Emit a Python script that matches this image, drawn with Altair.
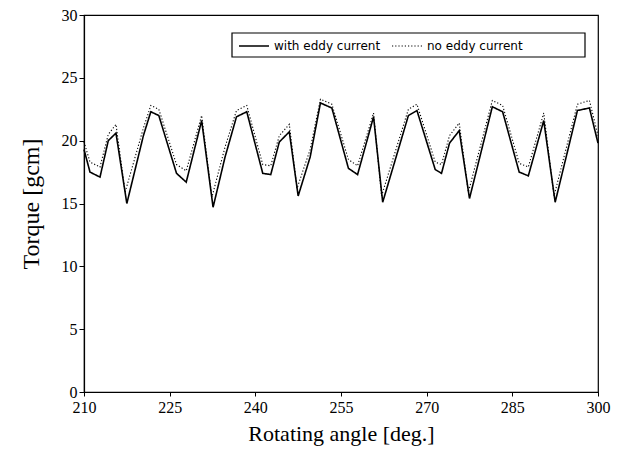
import altair as alt
import pandas as pd

# solid line: with eddy current
angle_with = [210.0, 211.05, 212.8, 214.25, 215.6, 217.5, 220.4, 221.7, 223.1, 226.2, 227.9,
              230.6, 232.6, 234.7, 236.7, 238.5, 241.3, 242.7, 244.2, 245.95, 247.5,
              249.6, 251.4, 253.4, 256.3, 257.9, 260.7, 262.3, 266.8, 268.3, 271.5,
              272.6, 274.0, 275.7, 277.5, 281.5, 283.3, 286.2, 287.8, 290.5, 292.5,
              296.4, 298.5, 300.0]
torque_with = [19.3, 17.5, 17.1, 20.0, 20.6, 15.0, 20.4, 22.3, 22.0, 17.4, 16.7,
               21.6, 14.7, 18.7, 21.9, 22.3, 17.4, 17.3, 19.9, 20.7, 15.6,
               18.7, 23.0, 22.6, 17.8, 17.3, 21.9, 15.1, 22.0, 22.4, 17.7,
               17.4, 19.8, 20.8, 15.4, 22.7, 22.3, 17.5, 17.2, 21.6, 15.1,
               22.4, 22.6, 19.8]

# dotted line: no eddy current
angle_no = [210.0, 211.05, 212.8, 214.25, 215.6, 217.2, 220.4, 221.7, 223.1, 226.2, 227.9,
            230.6, 232.4, 234.7, 236.7, 238.5, 241.3, 242.7, 244.2, 245.95, 247.3,
            249.6, 251.4, 253.4, 256.3, 257.9, 260.7, 262.1, 266.8, 268.3, 271.5,
            272.6, 274.0, 275.7, 277.3, 281.5, 283.3, 286.2, 287.8, 290.5, 292.3,
            296.4, 298.5, 300.0]
torque_no = [19.9, 18.3, 17.9, 20.5, 21.3, 15.9, 21.0, 22.8, 22.5, 18.1, 17.6,
             22.0, 15.5, 19.5, 22.4, 22.8, 18.1, 18.0, 20.4, 21.3, 16.2,
             19.3, 23.3, 22.9, 18.5, 18.0, 22.2, 15.6, 22.5, 22.9, 18.3,
             18.1, 20.4, 21.4, 15.9, 23.2, 22.8, 18.2, 17.9, 22.2, 15.6,
             22.9, 23.2, 20.4]

series_names = ["with eddy current", "no eddy current"]
x_ticks = [210, 225, 240, 255, 270, 285, 300]
y_ticks = [0, 5, 10, 15, 20, 25, 30]

df = pd.concat([
    pd.DataFrame({"angle": angle_with, "torque": torque_with, "series": series_names[0], "order": range(len(angle_with))}),
    pd.DataFrame({"angle": angle_no, "torque": torque_no, "series": series_names[1], "order": range(len(angle_no))}),
])

serif = "Liberation Serif"

# legend frame (decoration only)
frame = alt.Chart(pd.DataFrame({"k": [0]})).mark_rect(
    fill="white", stroke="black", strokeWidth=1.2
).encode(
    x=alt.value(148), x2=alt.value(501), y=alt.value(18), y2=alt.value(42)
)

lines = alt.Chart(df).mark_line(color="black").encode(
    x=alt.X("angle:Q",
            scale=alt.Scale(domain=[210, 300], nice=False, zero=False),
            axis=alt.Axis(values=x_ticks, title="Rotating angle [deg.]", grid=False,
                          tickSize=4, labelPadding=3, titlePadding=8, labelFlush=False,
                          titleFontSize=22)),
    y=alt.Y("torque:Q",
            scale=alt.Scale(domain=[0, 30], nice=False),
            axis=alt.Axis(values=y_ticks, title="Torque [gcm]", grid=False,
                          tickSize=5, labelPadding=2, titlePadding=18, titleFontSize=24)),
    order="order:Q",
    strokeDash=alt.StrokeDash("series:N",
                              scale=alt.Scale(domain=series_names, range=[[1, 0], [1.2, 2]]),
                              legend=alt.Legend(title=None, orient="none", legendX=150, legendY=11,
                                                direction="horizontal", symbolType="stroke",
                                                symbolSize=900, symbolStrokeColor="black",
                                                symbolStrokeWidth=1.5,
                                                labelFont="DejaVu Sans", labelFontSize=12,
                                                padding=4, columnPadding=8, labelOffset=4)),
    strokeWidth=alt.StrokeWidth("series:N",
                                scale=alt.Scale(domain=series_names, range=[1.6, 1.1]),
                                legend=None),
)

chart = alt.layer(frame, lines).properties(
    width=514, height=377,
    autosize=alt.AutoSizeParams(type="none"),
    padding={"left": 84, "top": 15, "right": 25, "bottom": 69},
    background="white",
).configure_view(
    stroke="black", strokeWidth=1.2
).configure_axis(
    domainColor="black", tickColor="black", labelColor="black", titleColor="black",
    labelFont=serif, labelFontSize=16, titleFont=serif,
    titleFontWeight="normal", domainWidth=1.2,
)

chart.save("out.html", embed_options={"renderer": "svg", "actions": False})
